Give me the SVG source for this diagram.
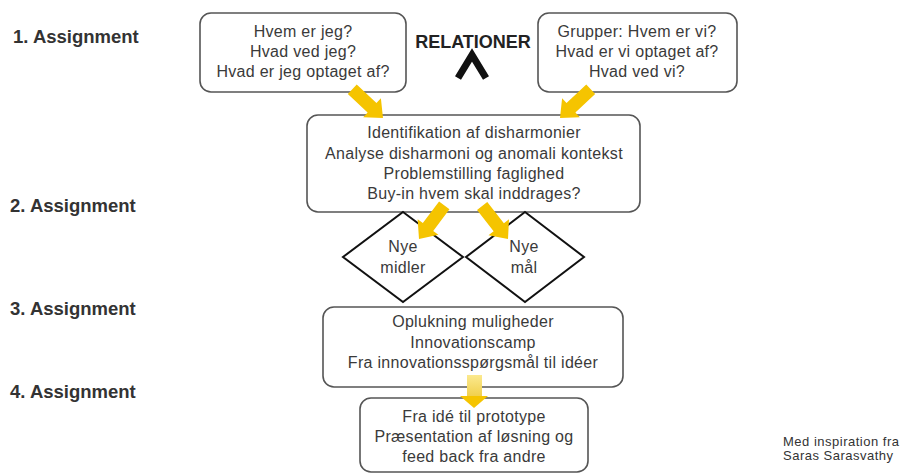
<svg xmlns="http://www.w3.org/2000/svg" width="905" height="475" viewBox="0 0 905 475">
<style>
.box{fill:#fff;stroke:#555;stroke-width:1.6}
.dia{fill:#fff;stroke:#111;stroke-width:2}
.t{font-family:"Liberation Sans",Arial,sans-serif;font-size:16px;fill:#3a3a3a;text-anchor:middle;letter-spacing:0.3px}
.lbl{font-family:"Liberation Sans",Arial,sans-serif;font-size:18.5px;font-weight:bold;fill:#333}
.rel{font-family:"Liberation Sans",Arial,sans-serif;font-size:18px;font-weight:bold;fill:#222;text-anchor:middle}
.small{font-family:"Liberation Sans",Arial,sans-serif;font-size:13px;fill:#333;letter-spacing:0.5px}
.ya{fill:#F5C400}
</style>
<defs>
<path id="yarrow" d="M-42,-6.5 L-15,-6.5 L-15,-13 L0,0 L-15,13 L-15,6.5 L-42,6.5 Z"/>
<linearGradient id="stripe" x1="0" y1="0" x2="0" y2="1">
<stop offset="0" stop-color="#fbe98f"/>
<stop offset="1" stop-color="#f0cf4a"/>
</linearGradient>
</defs>
<rect width="905" height="475" fill="#fff"/>

<g id="labels">
<text class="lbl" x="13" y="43">1. Assignment</text>
<text class="lbl" x="10" y="212">2. Assignment</text>
<text class="lbl" x="10" y="315">3. Assignment</text>
<text class="lbl" x="10" y="398">4. Assignment</text>
</g>

<g id="n1">
<rect class="box" x="200" y="13" width="206" height="79" rx="11"/>
<text class="t" x="303" y="37">Hvem er jeg?</text>
<text class="t" x="303" y="57">Hvad ved jeg?</text>
<text class="t" x="303" y="77">Hvad er jeg optaget af?</text>
</g>

<g id="relationer">
<text class="rel" x="473" y="48">RELATIONER</text>
<path d="M458,78 L472,55 L486,78" fill="none" stroke="#111" stroke-width="7" stroke-linejoin="miter"/>
</g>

<g id="n2">
<rect class="box" x="538" y="13" width="199" height="79" rx="11"/>
<text class="t" x="637" y="37">Grupper: Hvem er vi?</text>
<text class="t" x="637" y="57">Hvad er vi optaget af?</text>
<text class="t" x="637" y="77">Hvad ved vi?</text>
</g>

<g id="n3">
<rect class="box" x="307" y="115" width="333" height="97" rx="11"/>
<text class="t" x="474" y="138">Identifikation af disharmonier</text>
<text class="t" x="474" y="159">Analyse disharmoni og anomali kontekst</text>
<text class="t" x="474" y="179">Problemstilling faglighed</text>
<text class="t" x="474" y="199">Buy-in hvem skal inddrages?</text>
</g>

<g id="d1">
<path class="dia" d="M403,212 L463,257 L403,302 L343,257 Z"/>
<text class="t" x="403" y="252">Nye</text>
<text class="t" x="403" y="273">midler</text>
</g>

<g id="d2">
<path class="dia" d="M525,212 L584,257 L525,302 L466,257 Z"/>
<text class="t" x="524" y="252">Nye</text>
<text class="t" x="524" y="273">mål</text>
</g>

<g id="n4">
<rect class="box" x="323" y="307" width="300" height="80" rx="11"/>
<text class="t" x="473" y="327">Oplukning muligheder</text>
<text class="t" x="473" y="348">Innovationscamp</text>
<text class="t" x="473" y="368">Fra innovationsspørgsmål til idéer</text>
</g>

<g id="n5">
<rect class="box" x="360" y="398" width="228" height="74" rx="11"/>
<text class="t" x="474" y="422">Fra idé til prototype</text>
<text class="t" x="474" y="442">Præsentation af løsning og</text>
<text class="t" x="474" y="462">feed back fra andre</text>
</g>

<g id="connectors">
<use href="#yarrow" class="ya" transform="translate(383,118) rotate(43)"/>
<use href="#yarrow" class="ya" transform="translate(560,118) rotate(137)"/>
<use href="#yarrow" class="ya" transform="translate(419,239) rotate(127)"/>
<use href="#yarrow" class="ya" transform="translate(508,239) rotate(52)"/>
<rect x="467" y="375" width="15" height="22" fill="url(#stripe)"/>
<path d="M460,396 L488,396 L474,408 Z" fill="#F5C400"/>
</g>

<g id="credit">
<text class="small" x="783" y="446">Med inspiration fra</text>
<text class="small" x="783" y="460">Saras Sarasvathy</text>
</g>
</svg>
